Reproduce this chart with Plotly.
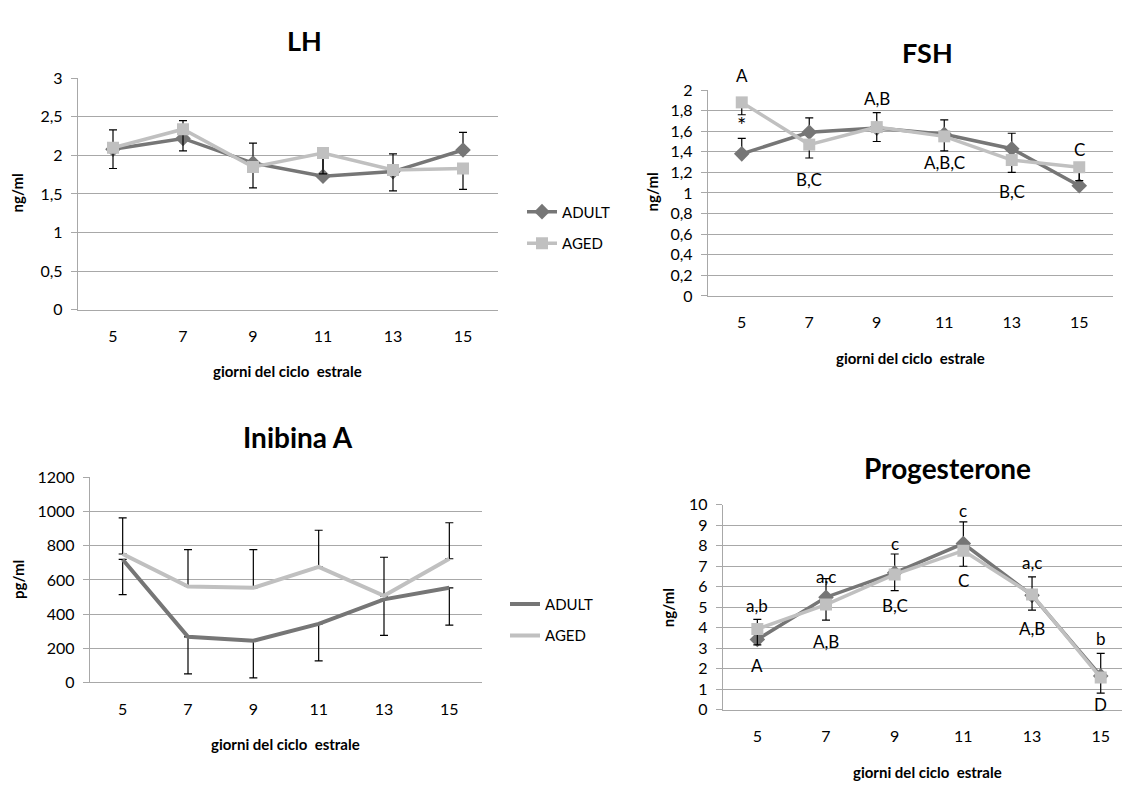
import plotly.graph_objects as go

W, H = 1122, 789

days = ["5", "7", "9", "11", "13", "15"]

# LH (ng/ml)
lh_adult = [2.08, 2.22, 1.90, 1.73, 1.79, 2.07]
lh_aged = [2.10, 2.34, 1.85, 2.03, 1.81, 1.83]
lh_adult_plus = [0.25, 0.23, 0.26, 0.25, 0.23, 0.23]
lh_aged_minus = [0.27, 0.28, 0.27, 0.27, 0.27, 0.27]
lh_ticks = [0, 0.5, 1, 1.5, 2, 2.5, 3]
lh_ticktext = ["0", "0,5", "1", "1,5", "2", "2,5", "3"]

# FSH (ng/ml)
fsh_adult = [1.38, 1.59, 1.63, 1.57, 1.43, 1.07]
fsh_aged = [1.88, 1.47, 1.64, 1.55, 1.32, 1.25]
fsh_adult_plus = [0.15, 0.14, 0.15, 0.14, 0.15, 0.15]
fsh_aged_minus = [0.12, 0.13, 0.14, 0.14, 0.12, 0.13]
fsh_ticks = [0, 0.2, 0.4, 0.6, 0.8, 1, 1.2, 1.4, 1.6, 1.8, 2]
fsh_ticktext = ["0", "0,2", "0,4", "0,6", "0,8", "1", "1,2", "1,4", "1,6", "1,8", "2"]
fsh_labels = ["A", "*", "B,C", "A,B", "A,B,C", "B,C", "C"]
fsh_label_x = ["5", "5", "7", "9", "11", "13", "15"]
fsh_label_y = [2.14, 1.67, 1.13, 1.92, 1.30, 1.01, 1.42]

# Inibina A (pg/ml)
inh_adult = [720, 267, 244, 343, 486, 554]
inh_aged = [752, 562, 554, 676, 507, 724]
inh_adult_minus = [206, 217, 217, 217, 210, 219]
inh_aged_plus = [212, 215, 223, 215, 226, 211]
inh_ticks = [0, 200, 400, 600, 800, 1000, 1200]
inh_ticktext = ["0", "200", "400", "600", "800", "1000", "1200"]

# Progesterone (ng/ml)
prog_adult = [3.43, 5.49, 6.68, 8.11, 5.58, 1.65]
prog_aged = [3.94, 5.13, 6.60, 7.76, 5.62, 1.57]
prog_adult_plus = [0.98, 0.91, 0.92, 1.06, 0.90, 1.10]
prog_aged_minus = [0.78, 0.76, 0.79, 0.76, 0.76, 0.76]
prog_ticks = [0, 1, 2, 3, 4, 5, 6, 7, 8, 9, 10]
prog_ticktext = [str(v) for v in prog_ticks]
prog_labels = ["a,b", "A", "a,c", "A,B", "c", "B,C", "c", "C", "a,c", "A,B", "b", "D"]
prog_label_x = ["5", "5", "7", "7", "9", "9", "11", "11", "13", "13", "15", "15"]
prog_label_y = [5.1, 2.16, 6.52, 3.35, 8.1, 5.1, 9.7, 6.33, 7.19, 3.98, 3.5, 0.25]

FONT = "Lato"
C_ADULT = "#767676"
C_AGED = "#c0c0c0"
GRID = "#a8a8a8"


def dx(a, b):
    return [a / W, b / W]


def dy(top, bottom):
    return [1 - bottom / H, 1 - top / H]


fig = go.Figure()


def add_pair(xa, ya, adult, aged, err_adult, err_aged, adult_side, markers, lw, legend, show):
    mode = "lines+markers" if markers else "lines"
    zero = [0] * len(days)
    if adult_side == "plus":
        ea = dict(type="data", symmetric=False, array=err_adult, arrayminus=zero,
                  color="black", thickness=1.2, width=4)
        eg = dict(type="data", symmetric=False, array=zero, arrayminus=err_aged,
                  color="black", thickness=1.2, width=4)
    else:
        ea = dict(type="data", symmetric=False, array=zero, arrayminus=err_adult,
                  color="black", thickness=1.2, width=4)
        eg = dict(type="data", symmetric=False, array=err_aged, arrayminus=zero,
                  color="black", thickness=1.2, width=4)
    fig.add_trace(go.Scatter(
        x=days, y=adult, mode=mode, name="ADULT", xaxis=xa, yaxis=ya,
        line=dict(color=C_ADULT, width=lw),
        marker=dict(symbol="diamond", size=12, color=C_ADULT),
        error_y=ea, showlegend=show, legend=legend, legendgroup=legend + "a"))
    fig.add_trace(go.Scatter(
        x=days, y=aged, mode=mode, name="AGED", xaxis=xa, yaxis=ya,
        line=dict(color=C_AGED, width=lw),
        marker=dict(symbol="square", size=12, color=C_AGED),
        error_y=eg, showlegend=show, legend=legend, legendgroup=legend + "b"))


add_pair("x", "y", lh_adult, lh_aged, lh_adult_plus, lh_aged_minus, "plus", True, 3.5, "legend", True)
add_pair("x2", "y2", fsh_adult, fsh_aged, fsh_adult_plus, fsh_aged_minus, "plus", True, 3.5, "legend", False)
add_pair("x3", "y3", inh_adult, inh_aged, inh_adult_minus, inh_aged_plus, "minus", False, 4, "legend2", True)
add_pair("x4", "y4", prog_adult, prog_aged, prog_adult_plus, prog_aged_minus, "plus", True, 3.5, "legend", False)

tickfont = dict(family=FONT, size=16, color="black")


def xaxis(dom, rng=None):
    d = dict(domain=dom, type="category", categoryorder="array", categoryarray=days,
             range=rng if rng else [-0.5, 5.5], showgrid=False, showline=True,
             linecolor=GRID, linewidth=1.3, ticks="", tickfont=tickfont,
             ticklabelstandoff=12, fixedrange=True)
    return d


def yaxis(dom, rng, tv, tt, anchor):
    return dict(domain=dom, range=rng, tickvals=tv, ticktext=tt, showgrid=True,
                gridcolor=GRID, gridwidth=1.3, showline=True, linecolor=GRID,
                linewidth=1.3, ticks="outside", ticklen=6, tickcolor=GRID,
                tickwidth=1.3, zeroline=False, tickfont=tickfont, anchor=anchor,
                ticklabelstandoff=5, fixedrange=True)


fig.update_layout(
    width=W, height=H, margin=dict(l=0, r=0, t=0, b=0),
    paper_bgcolor="white", plot_bgcolor="white",
    font=dict(family=FONT, color="black"),
    xaxis=dict(**xaxis(dx(78, 498)), anchor="y"),
    yaxis=yaxis(dy(70, 307), [0, 3], lh_ticks, lh_ticktext, "x"),
    xaxis2=dict(**xaxis(dx(708, 1113)), anchor="y2"),
    yaxis2=yaxis(dy(82, 293), [0, 2], fsh_ticks, fsh_ticktext, "x2"),
    xaxis3=dict(**xaxis(dx(90, 482)), anchor="y3"),
    yaxis3=yaxis(dy(479, 689), [0, 1200], inh_ticks, inh_ticktext, "x3"),
    xaxis4=dict(**xaxis(dx(723, 1122), [-0.5, 5.31]), anchor="y4"),
    yaxis4=yaxis(dy(507, 717), [0, 10], prog_ticks, prog_ticktext, "x4"),
    legend=dict(x=522 / W, y=1 - 190 / H, xanchor="left", yanchor="top",
                font=dict(family=FONT, size=15, color="black"),
                traceorder="grouped", tracegroupgap=9, itemwidth=30,
                bgcolor="rgba(0,0,0,0)"),
    legend2=dict(x=505 / W, y=1 - 592 / H, xanchor="left", yanchor="top",
                 font=dict(family=FONT, size=15, color="black"),
                 traceorder="grouped", tracegroupgap=9, itemwidth=30,
                 bgcolor="rgba(0,0,0,0)"),
    showlegend=True,
)

ann = []


def ptext(x, y, text, size, bold=False, angle=0):
    ann.append(dict(x=x / W, y=1 - y / H, xref="paper", yref="paper",
                    text=("<b>%s</b>" % text) if bold else text,
                    showarrow=False, xanchor="center", yanchor="middle", textangle=angle,
                    font=dict(family=FONT, size=size, color="black")))


xt = "giorni del ciclo\u00a0 estrale"
ptext(304, 31, "LH", 27, True)
ptext(927, 44, "FSH", 27, True)
ptext(298, 438, "Inibina A", 28, True)
ptext(947, 469, "Progesterone", 28, True)
ptext(287, 370, xt, 15, True)
ptext(910, 357, xt, 15, True)
ptext(285, 752, xt, 15, True)
ptext(927, 781, xt, 15, True)
ptext(17, 188, "ng/ml", 15, True, -90)
ptext(652, 187, "ng/ml", 15, True, -90)
ptext(18, 584, "pg/ml", 15, True, -90)
ptext(668, 613, "ng/ml", 15, True, -90)


def data_label(t, x, y, xref, yref, top, px_per_unit):
    # labels above the axis top are anchored at the top and shifted up in pixels
    shift = 0
    if y > top:
        shift = (y - top) * px_per_unit
        y = top
    size = 22 if t == "*" else 17
    ann.append(dict(x=days.index(x), y=y, xref=xref, yref=yref, text=t, showarrow=False,
                    yshift=shift, font=dict(family=FONT, size=size, color="black")))


for t, x, y in zip(fsh_labels, fsh_label_x, fsh_label_y):
    data_label(t, x, y, "x2", "y2", 2, (293 - 82) / 2)
for t, x, y in zip(prog_labels, prog_label_x, prog_label_y):
    data_label(t, x, y, "x4", "y4", 10, (717 - 507) / 10)

fig.update_layout(annotations=ann)
fig.write_html("out.html", config={"displayModeBar": False},
               post_script="document.body.style.margin='0px';document.body.style.overflow='hidden';")
